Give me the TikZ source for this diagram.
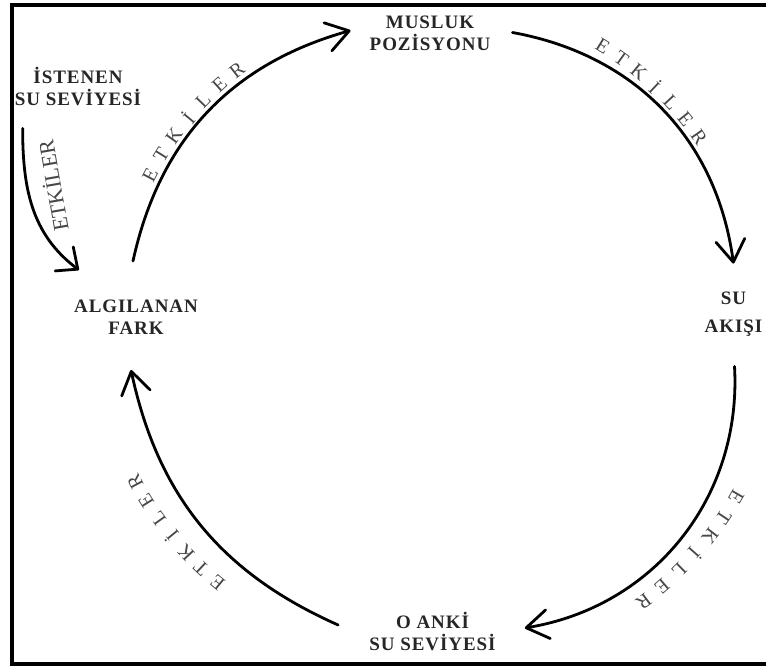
\documentclass[tikz,border=0pt]{standalone}
\usepackage{fontspec}
\setmainfont{Liberation Serif}
\newfontfamily\boxfont{Liberation Serif}[LetterSpace=5]
\usetikzlibrary{arrows.meta,calc}
% letters of one arc label: name, start angle, radius, step
\newcommand{\etkarc}[4]{%
  \foreach \ch [count=\i] in {E,T,K,İ,L,E,R} {
    \pgfmathsetmacro{\ang}{#2-(\i-1)*#4}
    \node[etk, rotate=\ang-90] (#1-\i) at ($(ctr)+(\ang:#3)$) {\ch};
  }}

\begin{document}
\begin{tikzpicture}[x=1pt,y=1pt,>={Straight Barb[length=22pt,width=29pt,round]},
    lbl/.style={font=\boxfont\bfseries\fontsize{19}{22}\selectfont, text=black!85, align=center, inner sep=3pt},
    etk/.style={font=\fontsize{20}{20}\selectfont, text=black!72, inner sep=0pt},
    flow/.style={->, line width=2.8pt, line cap=round}]
  \clip (0,0) rectangle (766,666);
  \draw[line width=4pt] (780,661) -- (12,661) -- (12,2) -- (780,2);
  \coordinate (ctr) at (433,344);
  % ---- states ----
  \node[lbl] (musluk)  at (430,632.5) {MUSLUK\\POZİSYONU};
  \node[lbl] (istenen) at (78,579) {İSTENEN\\SU SEVİYESİ};
  \node[lbl] (akisi)   at (733.5,352) {SU\\[6pt]AKIŞI};
  \node[lbl] (fark)    at (136,348.5) {ALGILANAN\\FARK};
  \node[lbl] (oanki)   at (432.5,34) {O ANKİ\\SU SEVİYESİ};
  % ---- loop ----
  \draw[flow] ([xshift=-3pt,yshift=36pt]fark.north) to[bend left=31] ([xshift=-16pt,yshift=3pt]musluk.west);
  \draw[flow] ([xshift=19pt,yshift=1pt]musluk.east) to[bend left=36] ([yshift=25pt]akisi.north);
  \draw[flow] ([xshift=1pt,yshift=-27pt]akisi.south) to[bend left=42] ([xshift=26pt,yshift=4pt]oanki.east);
  \draw[flow] ([xshift=-28pt,yshift=7pt]oanki.west) to[bend left=27] ([xshift=-5pt,yshift=-32pt]fark.south);
  \draw[flow, -{Straight Barb[length=17pt,width=30pt,round]}]
    ([xshift=11pt,yshift=-19pt]istenen.south west) to[out=-90, in=143] ([xshift=8pt,yshift=27pt]fark.north west);
  % ---- labels ----
  \etkarc{a}{152.5}{319}{4.1}
  \etkarc{b}{58.4}{324}{3.93}
  \etkarc{c}{-30}{350}{3.83}
  \etkarc{d}{-129.6}{338}{3.7}
  \node[etk, font=\fontsize{22}{22}\selectfont, rotate=100] (side) at (52,480) {ETKİLER};
\end{tikzpicture}
\end{document}
